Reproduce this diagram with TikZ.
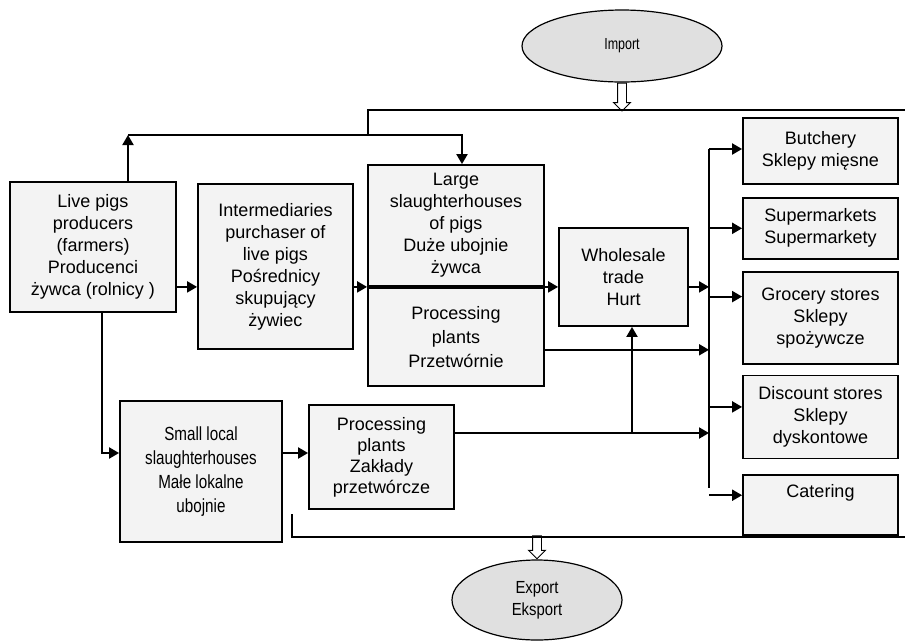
\documentclass[tikz,border=0pt]{standalone}
\usepackage{fontspec}
\setmainfont{Liberation Sans}
\usepackage{tikz}
\usetikzlibrary{shapes.geometric, shapes.arrows, arrows.meta, positioning}
\definecolor{boxgray}{HTML}{F3F3F3}
\definecolor{ovalgray}{HTML}{E0E0E0}
\newcommand{\txt}{\fontsize{18}{22}\selectfont}
\newcommand{\narrowtxt}{\fontsize{19}{24}\selectfont\addfontfeature{FakeStretch=0.8}}
\tikzstyle{box} = [rectangle, draw=black, fill=boxgray, line width=1.8pt, inner sep=0pt, align=center, font=\txt]
\tikzstyle{oval} = [ellipse, draw=black, fill=ovalgray, line width=1.2pt, inner sep=0pt, align=center]
\tikzstyle{flow} = [line width=2pt, -{Triangle[length=10pt,width=11pt]}]
\tikzstyle{hollow} = [single arrow, draw=black, fill=white, line width=0.9pt, inner sep=4pt, single arrow head extend=4pt]

\begin{document}
\begin{tikzpicture}[x=1pt, y=-1pt]
  \useasboundingbox (0,0) rectangle (905,641);

  \node (imp) [oval, minimum width=200pt, minimum height=72pt, font=\fontsize{16}{20}\selectfont\addfontfeature{FakeStretch=0.78}] at (622,46) {Import};
  \node (lp) [box, minimum width=166pt, minimum height=130pt] at (93,247) {Live pigs\\producers\\(farmers)\\Producenci\\żywca (rolnicy )};
  \node (inter) [box, minimum width=155pt, minimum height=165pt] at (275.5,266.5) {Intermediaries\\purchaser of\\live pigs\\Pośrednicy\\skupujący\\żywiec};
  \node (lsh) [box, minimum width=176pt, minimum height=121pt] at (456,225.5) {Large\\slaughterhouses\\of pigs\\Duże ubojnie\\żywca};
  \node (pp) [box, below=0pt of lsh, minimum width=176pt, minimum height=98pt, font=\fontsize{18}{24}\selectfont] {Processing\\plants\\Przetwórnie};
  \node (whs) [box, minimum width=129pt, minimum height=98pt] at (623.5,277) {Wholesale\\trade\\Hurt};
  \node (but) [box, minimum width=155pt, minimum height=66pt] at (820.5,151) {Butchery\\Sklepy mięsne};
  \node (sup) [box, below=12pt of but, minimum width=155pt, minimum height=61pt] {Supermarkets\\Supermarkety};
  \node (gro) [box, below=11pt of sup, minimum width=155pt, minimum height=92pt] {Grocery stores\\Sklepy\\spożywcze};
  \node (dis) [box, below=10pt of gro, minimum width=155pt, minimum height=83pt] {Discount stores\\Sklepy\\dyskontowe};
  \node (cat) [box, below=15pt of dis, minimum width=155pt, minimum height=60pt] {Catering\\\strut};
  \node (sml) [box, minimum width=162pt, minimum height=141pt, font=\narrowtxt] at (201,471.5) {Small local\\slaughterhouses\\Małe lokalne\\ubojnie};
  \node (pp2) [box, minimum width=145pt, minimum height=104pt, font=\fontsize{18}{21}\selectfont] at (381.5,457) {Processing\\plants\\Zakłady\\przetwórcze};
  \node (exp) [oval, minimum width=170pt, minimum height=80pt, font=\fontsize{17.5}{22}\selectfont\addfontfeature{FakeStretch=0.85}] at (537,600) {Export\\Eksport};

  % hollow arrows for import and export
  \node (impArr) [hollow, minimum height=28pt, rotate=-90, anchor=tail] at (imp.south) {};
  \node (expArr) [hollow, minimum height=23pt, rotate=-90, anchor=tip] at (exp.north) {};

  \coordinate (upc) at (128,135);
  \coordinate (imc) at (368,110);
  \coordinate (topR) at (905,110);
  \coordinate (bus) at (709,149);
  \coordinate (busE) at (709,488);
  \coordinate (dnc) at (102,453);
  \coordinate (lowj) at (632,433);
  \coordinate (brk) at (292,514);
  \coordinate (brkR) at (905,537);
  \coordinate (ppOut) at ([yshift=-13pt]pp.east);
  \coordinate (groIn) at ([yshift=21pt]gro.west);
  \coordinate (disIn) at ([yshift=10pt]dis.west);
  \coordinate (catIn) at ([yshift=10pt]cat.west);

  \draw [flow] (lp.north -| upc) -- (upc);
  \draw [flow] (upc) -| ([xshift=6pt]lsh.north);
  \draw [line width=2pt] (upc -| imc) -- (imc) -- (topR);
  \draw [flow] (lp.east |- lsh.south) -- (inter.west |- lsh.south);
  \draw [flow] (inter.east |- lsh.south) -- (lsh.south west);
  \draw [flow] (lsh.south west) -- (whs.west |- lsh.south);
  \draw [flow] (whs.east |- lsh.south) -- (bus |- lsh.south);
  \draw [flow] (ppOut) -- (bus |- ppOut);
  \draw [line width=2pt] (bus) -- (busE);
  \draw [flow] (bus) -- (bus -| but.west);
  \draw [flow] (bus |- sup.west) -- (sup.west);
  \draw [flow] (bus |- groIn) -- (groIn);
  \draw [flow] (bus |- disIn) -- (disIn);
  \draw [flow] (bus |- catIn) -- (catIn);
  \draw [flow] (lp.south -| dnc) -- (dnc) -- (sml.west |- dnc);
  \draw [flow] (sml.east |- dnc) -- (pp2.west |- dnc);
  \draw [flow] (pp2.east |- lowj) -- (bus |- lowj);
  \draw [flow] (lowj) -- (lowj |- whs.south);
  \draw [line width=1.2pt] (brk) |- (brkR);
\end{tikzpicture}
\end{document}
